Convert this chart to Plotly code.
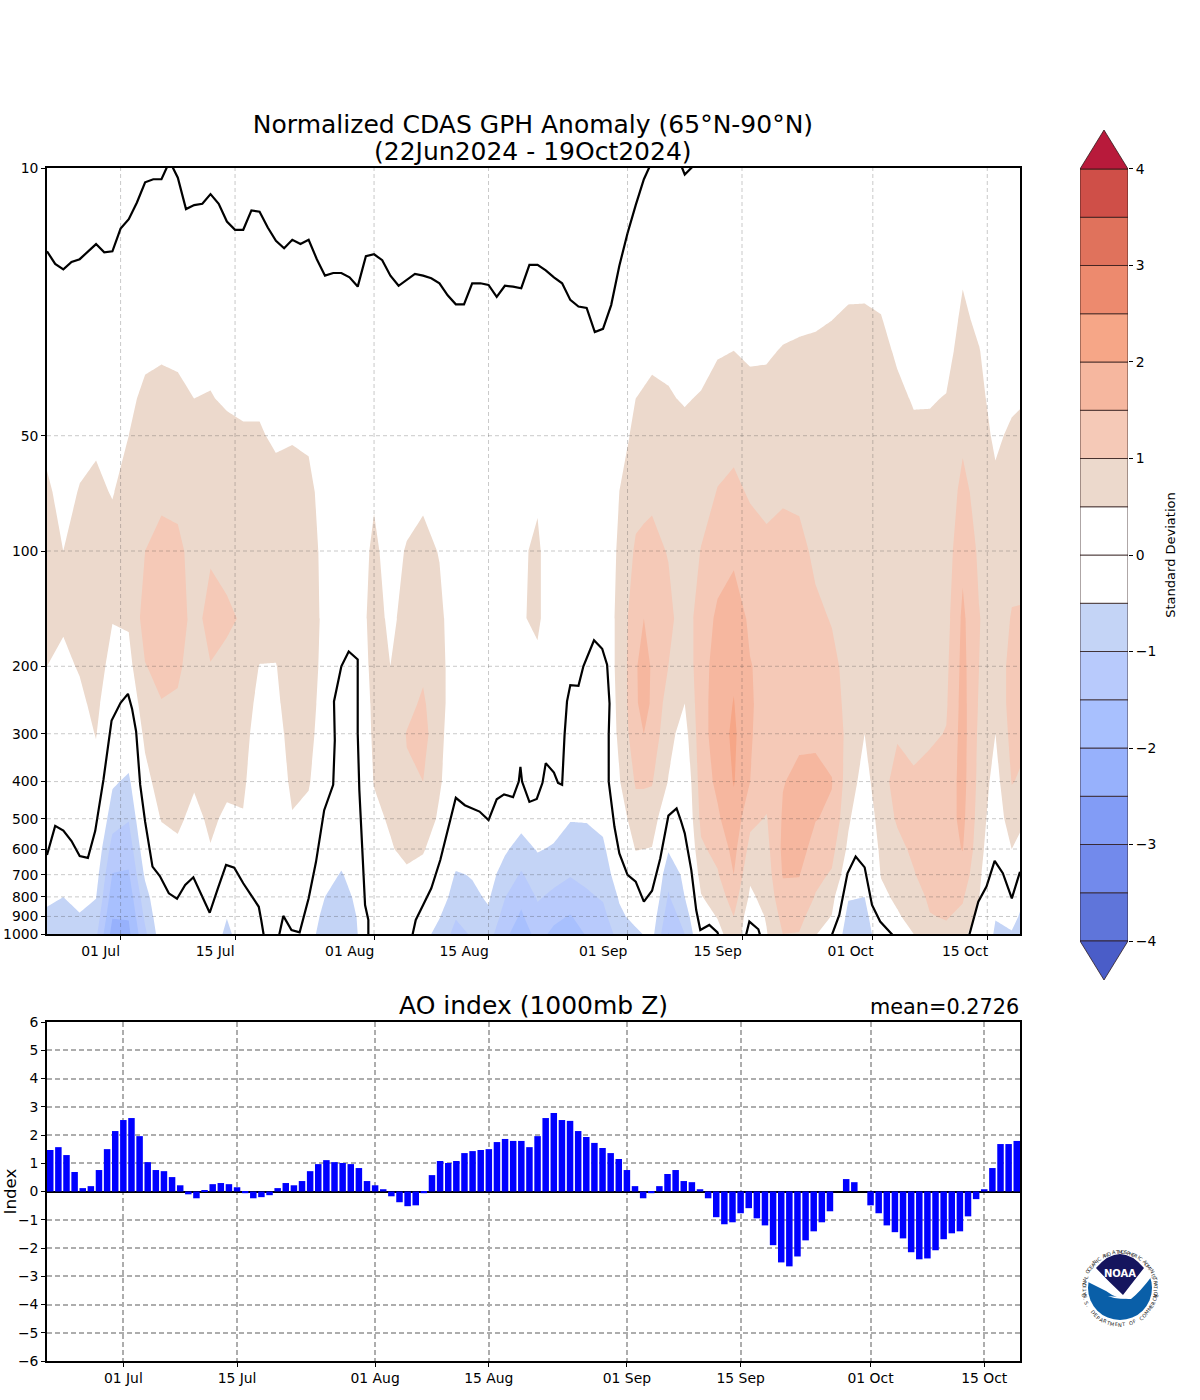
import numpy as np
import pandas as pd
import plotly.graph_objects as go

START = pd.Timestamp("2024-06-22")

TICK_DAYS = [9, 23, 40, 54, 71, 85, 101, 115]
TICK_LABELS = ["01 Jul", "15 Jul", "01 Aug", "15 Aug", "01 Sep", "15 Sep", "01 Oct", "15 Oct"]
# upper panel's labels end at their tick: the wider month names get trailing no-break spaces
TOP_TICK_LABELS = ["01 Jul", "15 Jul", "01 Aug\u00a0\u00a0", "15 Aug\u00a0\u00a0", "01 Sep\u00a0\u00a0", "15 Sep\u00a0\u00a0", "01 Oct\u00a0", "15 Oct\u00a0"]
P_TICKS = [10, 50, 100, 200, 300, 400, 500, 600, 700, 800, 900, 1000]

PRESSURE_LEVELS = [10, 20, 25, 30, 40, 50, 70, 100, 150, 200, 250, 300, 400, 500, 600, 700, 800, 900, 1000]
COLUMN_DAYS = [0, 2, 4, 6, 8, 10, 12, 14, 16, 18, 20, 22, 24, 26, 28, 30, 32, 34, 36, 38, 40, 42, 44, 46, 48, 50, 52, 54, 56, 58,
               60, 62, 64, 66, 68, 70, 72, 73, 74, 76, 78, 80, 82, 84, 86, 88, 90, 92, 94, 96, 98, 100, 102, 104, 106, 108, 110, 112, 114, 116, 118, 119]

# one row per column day, one value per pressure level
ANOMALY_BY_DAY = [
 [0,.1,.15,.2,.3,.4,.56,.7,.65,.5,.35,.25,.1,0,-.15,-.3,-.45,-.55,-.7],
 [0,.05,.1,.15,.2,.3,.38,.5,.55,.42,.3,.2,.05,-.05,-.2,-.35,-.5,-.62,-.75],
 [0,.1,.15,.2,.28,.38,.52,.75,.72,.53,.42,.3,.15,0,-.2,-.32,-.42,-.52,-.65],
 [0,.1,.15,.2,.3,.42,.6,.85,.85,.7,.6,.52,.35,.15,-.1,-.3,-.48,-.7,-.9],
 [-.1,0,.05,.1,.2,.35,.47,.7,.52,.35,.2,.05,-.42,-.8,-1.2,-1.52,-1.75,-1.97,-2.2],
 [0,.15,.22,.3,.42,.5,.7,.85,.56,.35,.15,-.05,-.6,-.97,-1.3,-1.55,-1.78,-1.97,-2.1],
 [.05,.25,.35,.42,.58,.7,.85,1.0,1.2,.98,.75,.6,.35,.1,-.15,-.42,-.7,-.9,-1.1],
 [.05,.2,.38,.46,.6,.7,.9,1.15,1.35,1.15,.98,.9,.72,.53,.25,.1,0,-.1,-.2],
 [.05,.2,.33,.42,.6,.7,.88,1.1,1.3,1.07,.95,.85,.72,.58,.42,.25,.15,.05,0],
 [0,.15,.3,.38,.5,.62,.8,.85,.8,.82,.82,.72,.55,.38,.25,.1,.05,0,-.05],
 [0,.15,.3,.4,.52,.62,.78,.93,1.2,.98,.88,.8,.68,.58,.48,.35,.2,.1,.05],
 [0,.12,.25,.35,.45,.6,.75,.85,1.08,.88,.78,.72,.6,.42,.25,.05,-.2,-.47,-.7],
 [0,.1,.2,.3,.42,.55,.72,.85,.95,.85,.75,.68,.58,.47,.3,.15,.05,0,-.05],
 [0,.1,.2,.3,.42,.55,.72,.85,.88,.48,.35,.25,.15,.05,0,-.05,-.1,-.2,-.3],
 [0,.1,.18,.25,.35,.42,.68,.8,.75,.48,.4,.3,.2,.1,0,-.05,-.1,-.2,-.3],
 [0,.08,.15,.22,.35,.47,.65,.8,.82,.8,.75,.7,.6,.47,.3,.15,.05,-.05,-.15],
 [0,.05,.12,.2,.32,.43,.62,.72,.75,.72,.68,.64,.54,.38,.2,0,-.1,-.2,-.3],
 [0,.05,.1,.15,.2,.25,.3,.35,.38,.35,.3,.25,.15,.05,-.1,-.3,-.5,-.65,-.75],
 [0,.02,.05,.08,.1,.12,.15,.15,.15,.12,.1,.05,0,-.1,-.3,-.54,-.65,-.75,-.85],
 [0,.02,.05,.08,.1,.12,.2,.25,.25,.2,.15,.1,.05,0,-.1,-.25,-.42,-.48,-.5],
 [0,.05,.08,.1,.2,.3,.44,.6,.7,.65,.6,.58,.52,.4,.25,.1,0,-.1,-.2],
 [0,.03,.05,.08,.1,.15,.2,.3,.4,.5,.62,.68,.62,.55,.46,.25,.1,0,-.1],
 [0,.03,.05,.08,.1,.2,.3,.54,.65,.75,.85,1.02,.95,.8,.62,.42,.2,.05,-.05],
 [0,.03,.05,.08,.15,.25,.42,.62,.75,.9,1.08,1.2,1.0,.8,.55,.3,.1,-.1,-.3],
 [0,0,.03,.05,.1,.15,.3,.48,.6,.62,.62,.6,.56,.42,.2,0,-.2,-.47,-.7],
 [0,0,0,.02,.05,.1,.15,.2,.25,.3,.3,.25,.15,.05,-.2,-.55,-.75,-.97,-1.15],
 [0,0,0,.02,.05,.1,.15,.2,.25,.25,.25,.2,.1,0,-.25,-.47,-.6,-.8,-.95],
 [0,0,0,.02,.05,.1,.15,.2,.2,.2,.2,.15,.1,0,-.15,-.3,-.44,-.58,-.8],
 [0,0,0,.02,.05,.1,.1,.15,.15,.15,.15,.1,.05,-.2,-.42,-.72,-.98,-1.2,-1.4],
 [0,0,0,.02,.05,.1,.2,.42,.45,.25,.2,.15,.05,-.3,-.72,-1.05,-1.38,-1.57,-1.75],
 [0,0,.05,.08,.15,.25,.42,.6,.6,.38,.2,.1,0,-.2,-.46,-.75,-.95,-1.15,-1.35],
 [0,0,0,.02,.05,.05,.1,.1,.1,.1,.1,.05,-.05,-.3,-.55,-.85,-1.1,-1.4,-1.6],
 [0,0,0,.02,.05,.05,.05,.05,.05,.05,.05,0,-.15,-.47,-.75,-.97,-1.25,-1.53,-1.8],
 [0,0,0,.02,.05,.05,.05,.1,.1,.1,.1,.05,-.1,-.47,-.68,-.87,-1.08,-1.3,-1.45],
 [0,0,0,.02,.05,.1,.1,.15,.2,.2,.15,.1,-.05,-.35,-.6,-.8,-.95,-1.15,-1.35],
 [0,.05,.1,.15,.22,.3,.5,.58,.62,.62,.6,.58,.47,.2,0,-.2,-.45,-.6,-.8],
 [0,.1,.22,.35,.5,.62,.82,1.07,1.35,1.42,1.42,1.32,1.05,.8,.52,.25,0,-.35,-.6],
 [.01,.12,.26,.38,.54,.67,.86,1.12,1.5,1.8,1.7,1.5,1.05,.8,.5,.22,0,-.28,-.48],
 [.02,.15,.3,.42,.58,.72,.9,1.15,1.38,1.42,1.42,1.32,1.03,.78,.48,.2,0,-.2,-.35],
 [.02,.12,.25,.42,.53,.62,.75,.97,1.15,1.0,.78,.65,.48,0,-.45,-.85,-1.05,-1.28,-1.52],
 [0,.1,.22,.35,.47,.6,.65,.7,.72,.65,.5,.3,0,-.1,-.25,-.38,-.5,-.8,-1.0],
 [0,.1,.22,.35,.53,.62,.78,1.02,1.25,1.3,1.3,1.3,1.25,1.12,.92,.68,.47,.2,0],
 [.02,.2,.35,.47,.63,.78,1.02,1.3,1.58,1.7,1.75,1.75,1.6,1.42,1.15,.95,.75,.53,.3],
 [.05,.28,.4,.5,.7,.87,1.1,1.4,1.75,1.92,2.02,2.1,2.03,1.83,1.65,1.5,1.22,1.0,.85],
 [.02,.2,.35,.45,.6,.72,.95,1.2,1.42,1.52,1.53,1.52,1.5,1.12,.85,.58,.42,.2,.1],
 [.02,.2,.35,.46,.6,.7,.88,1.1,1.3,1.38,1.4,1.4,1.2,.97,.85,.75,.65,.54,.47],
 [.03,.3,.42,.52,.67,.78,.95,1.13,1.3,1.35,1.38,1.4,1.48,1.55,1.6,1.53,1.35,1.15,1.0],
 [.05,.32,.44,.55,.68,.78,.93,1.1,1.25,1.3,1.35,1.42,1.6,1.7,1.7,1.52,1.35,1.15,.98],
 [.05,.35,.47,.55,.65,.72,.82,.93,1.07,1.2,1.3,1.42,1.62,1.52,1.3,1.12,.97,.75,.52],
 [.1,.4,.5,.57,.65,.7,.78,.88,.98,1.08,1.15,1.3,1.52,1.42,1.15,.95,.7,.48,.3],
 [.15,.42,.56,.62,.7,.75,.8,.85,.88,.9,.9,.88,.75,.58,.4,.15,-.45,-.7,-.95],
 [.12,.44,.55,.6,.65,.68,.72,.75,.75,.7,.6,.5,.3,.05,-.15,-.35,-.5,-.75,-.98],
 [.1,.4,.52,.6,.68,.72,.75,.78,.8,.8,.82,.85,.85,.75,.62,.52,.4,.25,.1],
 [.02,.2,.35,.45,.58,.63,.7,.75,.8,.85,.9,.96,1.15,1.05,.88,.72,.58,.45,.3],
 [0,.1,.2,.3,.47,.57,.65,.7,.75,.8,.85,.9,1.05,1.15,1.08,.97,.8,.65,.5],
 [0,.1,.2,.3,.47,.58,.66,.72,.78,.84,.9,.93,1.15,1.25,1.3,1.2,1.08,.98,.8],
 [0,.12,.25,.35,.52,.6,.68,.75,.82,.9,.95,1.02,1.2,1.3,1.32,1.25,1.12,1.03,.9],
 [.1,.48,.6,.68,.8,.9,1.15,1.38,1.6,1.65,1.68,1.7,1.68,1.62,1.52,1.3,1.05,.9,.65],
 [.02,.25,.4,.52,.62,.7,.8,.92,1.02,1.0,.95,.9,.85,.78,.7,.6,.52,.35,.15],
 [0,.08,.15,.22,.33,.42,.6,.72,.75,.72,.62,.5,.3,.15,.02,-.1,-.3,-.47,-.6],
 [0,.1,.2,.3,.42,.58,.7,.85,1.03,1.15,1.2,1.15,1.02,.8,.5,.25,.05,-.3,-.55],
 [0,.1,.2,.32,.46,.6,.72,.88,1.03,1.15,1.2,1.1,.96,.6,.38,.15,-.35,-.55,-.7],
]

BAND_EDGES = [-4.5, -4, -3.5, -3, -2.5, -2, -1.5, -1, -.5, 0, .5, 1, 1.5, 2, 2.5, 3, 3.5, 4, 4.5]
BAND_COLORS = ["#4a5dc8", "#5f75da", "#728aec", "#829cf6", "#97b1fc", "#a8c0fe", "#b8cafc", "#c4d4f6", "#ffffff",
               "#ffffff", "#ecd9cc", "#f5c9b7", "#f6b79f", "#f6a687", "#ed8a6e", "#e0725c", "#cf4f48", "#b81a3b"]

UPPER_DAY = list(range(0, 81))
UPPER_P = [16.5,17.8,18.4,17.6,17.3,16.5,15.8,16.6,16.5,14.4,13.6,12.3,10.9,10.7,10.7,9.6,10.6,12.8,12.5,12.4,
           11.7,12.4,13.8,14.5,14.5,12.9,13.0,14.3,15.5,16.2,15.4,15.8,15.4,17.3,19.1,18.8,18.8,19.3,20.4,17.0,
           16.8,17.4,19.1,20.3,19.6,18.9,19.1,19.4,20.0,21.5,22.7,22.7,20.0,20.0,20.2,21.7,20.3,20.4,20.6,17.9,
           17.9,18.5,19.3,20.0,22.1,23.0,23.2,26.8,26.3,22.8,18.0,14.8,12.5,10.7,9.6,9.2,9.2,9.2,10.4,9.9,9.5]

LOW1_DAY = [0,1,2,3,4,5,5.9,6.9,7.9,9,9.9,10.4,10.9,11.4,12,12.9,13.8,14.9,15.9,16.9,17.9,18.9,19.9,20.9,21.9,22.9,24,24.9,25.9,26.2,26.5]
LOW1_P = [622,522,537,572,626,633,538,396,277,249,236,258,296,408,509,667,706,783,809,745,711,791,880,760,660,671,737,788,849,919,1005]
LOW2_DAY = [28.4,28.9,29.9,30.9,32,32.9,33.9,35,35.2,35.1,36,36.9,38,38,38.2,38.9,39.3,39.3]
LOW2_P = [1005,897,976,990,807,648,475,408,312,247,200,183,192,299,421,840,919,1005]
LOW3_DAY = [44.7,45.1,46,47,48.1,49,50,51.1,51.9,52.9,54,55,55.9,57,57.7,57.9,58.1,59,59.9,60.6,61,62,62.5,63,63.3,63.6,64,65,65.6,66.9,67.9,68.5,68.8,68.7,68.7,69.4,70,71,72,73,74,75,76,77,77.5,78,78.8,79.4,79.9,81,82,82.1]
LOW3_P = [1005,919,840,760,641,541,441,461,468,479,504,445,432,439,400,366,400,452,444,403,358,379,403,408,302,247,224,225,200,171,180,198,250,302,400,525,616,701,730,823,771,635,491,470,504,546,681,866,976,947,990,1005]
LOW4_DAY = [85.5,85.9,87,87.2]
LOW4_P = [1005,928,972,1005]
LOW5_DAY = [96,96.9,97.9,98.9,100,100.9,101.9,103.3,103.4]
LOW5_P = [1005,892,694,628,670,840,928,1000,1005]
LOW6_DAY = [112.8,113.9,114.9,115.9,116.9,118,119]
LOW6_P = [1005,823,752,644,694,807,688]

AO_INDEX = [1.47,1.57,1.29,.69,.12,.19,.76,1.5,2.14,2.53,2.6,1.96,1.04,.76,.72,.51,.22,-.1,-.24,.05,
            .26,.3,.26,.15,-.06,-.24,-.2,-.13,.12,.3,.22,.37,.72,.97,1.11,1.04,1.01,.97,.83,.37,
            .22,.08,-.17,-.38,-.52,-.49,-.06,.58,1.08,1.01,1.08,1.36,1.43,1.47,1.5,1.75,1.86,1.79,1.79,1.57,
            1.96,2.6,2.78,2.53,2.5,2.14,1.93,1.72,1.54,1.36,1.15,.76,.19,-.24,-.06,.19,.62,.76,.37,.33,
            .08,-.24,-.91,-1.16,-1.09,-.77,-.59,-.95,-1.2,-1.9,-2.51,-2.65,-2.3,-1.73,-1.41,-1.09,-.7,0,.44,.33,
            0,-.49,-.77,-1.2,-1.44,-1.66,-2.15,-2.4,-2.37,-2.08,-1.69,-1.48,-1.41,-.88,-.27,.08,.83,1.68,1.68,1.79]

FONT = "DejaVu Sans"
W, H = 1200, 1400
PLOT_L, PLOT_R = 47, 1020


def dates(days):
    return [START + pd.Timedelta(days=float(d)) for d in days]


def dom_x(a, b):
    return [a / W, b / W]


def dom_y(top, bottom):
    return [1 - bottom / H, 1 - top / H]


fig = go.Figure()

span = BAND_EDGES[-1] - BAND_EDGES[0]
scale = []
for i, c in enumerate(BAND_COLORS):
    scale.append([(BAND_EDGES[i] - BAND_EDGES[0]) / span, c])
    scale.append([(BAND_EDGES[i + 1] - BAND_EDGES[0]) / span, c])

fig.add_trace(go.Contour(
    x=dates(COLUMN_DAYS), y=PRESSURE_LEVELS, z=np.array(ANOMALY_BY_DAY).T,
    colorscale=scale, zmin=-4.5, zmax=4.5, showscale=False,
    contours=dict(start=-4, end=4, size=.5, coloring="fill", showlines=False),
    line=dict(width=0, smoothing=0), xaxis="x", yaxis="y", hoverinfo="skip"))

for d, p in [(UPPER_DAY, UPPER_P), (LOW1_DAY, LOW1_P), (LOW2_DAY, LOW2_P), (LOW3_DAY, LOW3_P),
             (LOW4_DAY, LOW4_P), (LOW5_DAY, LOW5_P), (LOW6_DAY, LOW6_P)]:
    fig.add_trace(go.Scatter(x=dates(d), y=p, mode="lines", line=dict(color="black", width=2.2),
                             showlegend=False, xaxis="x", yaxis="y", hoverinfo="skip"))

fig.add_trace(go.Bar(x=dates(range(len(AO_INDEX))), y=AO_INDEX, width=0.8 * 86400000,
                     marker=dict(color="#0000ff", line=dict(width=0)), xaxis="x2", yaxis="y2", showlegend=False))

fig.add_trace(go.Bar(x=[0] * 16, y=[.5] * 16, base=BAND_EDGES[1:17], width=1,
                     marker=dict(color=BAND_COLORS[1:17], line=dict(color="rgba(40,20,20,.75)", width=1)),
                     xaxis="x3", yaxis="y3", showlegend=False, hoverinfo="skip"))
fig.add_trace(go.Scatter(x=[-.5, 0, .5, -.5], y=[4, 4.404, 4, 4], fill="toself", fillcolor=BAND_COLORS[-1], mode="lines",
                         line=dict(color="rgba(40,20,20,.75)", width=1), xaxis="x3", yaxis="y3", showlegend=False, hoverinfo="skip"))
fig.add_trace(go.Scatter(x=[-.5, 0, .5, -.5], y=[-4, -4.404, -4, -4], fill="toself", fillcolor=BAND_COLORS[0], mode="lines",
                         line=dict(color="rgba(40,20,20,.75)", width=1), xaxis="x3", yaxis="y3", showlegend=False, hoverinfo="skip"))

tick_dates = dates(TICK_DAYS)
axis_font = dict(family=FONT, size=13.9, color="black")
common = dict(showline=True, linecolor="black", linewidth=1.6, mirror=True, ticks="outside", ticklen=4,
              tickcolor="black", tickfont=axis_font, automargin=False)

shapes = []
GRID = dict(color="rgba(60,60,60,.28)", width=1, dash="4px,3px")
for d in tick_dates:
    shapes.append(dict(type="line", xref="x", yref="y domain", x0=d, x1=d, y0=0, y1=1, line=GRID))
for p in P_TICKS[1:-1]:
    shapes.append(dict(type="line", xref="x domain", yref="y", x0=0, x1=1, y0=p, y1=p, line=GRID))


def fx(px):
    return px / W


def fy(py):
    return 1 - py / H


def path(cmds):
    out = []
    for c in cmds:
        if c == "Z":
            out.append("Z")
        else:
            k, *pts = c
            out.append(k + " " + " ".join(f"{fx(x):.5f},{fy(y):.5f}" for x, y in pts))
    return " ".join(out)


CX, CY, R = 1120, 1288, 32
shapes.append(dict(type="circle", xref="paper", yref="paper", x0=fx(CX - R), x1=fx(CX + R), y0=fy(CY + R), y1=fy(CY - R),
                   fillcolor="#0a5fa8", line=dict(width=0)))
shapes.append(dict(type="path", xref="paper", yref="paper", fillcolor="white", line=dict(width=0),
                   path=path([("M", (1085, 1250)), ("L", (1155, 1250)), ("L", (1155, 1276)), ("L", (1152, 1276)),
                              ("Q", (1140, 1292), (1131, 1299)), ("Q", (1118, 1300), (1106, 1291)),
                              ("Q", (1096, 1286), (1088, 1282)), ("L", (1085, 1282)), "Z"])))
shapes.append(dict(type="path", xref="paper", yref="paper", fillcolor="#15155e", line=dict(width=0),
                   path=path([("M", (1096, 1268)), ("Q", (1120, 1240), (1144, 1268)), ("Q", (1133, 1282), (1123, 1295)),
                              ("Q", (1108, 1281), (1096, 1268)), "Z"])))
shapes.append(dict(type="path", xref="paper", yref="paper", fillcolor="white", line=dict(width=0),
                   path=path([("M", (1108, 1296)), ("Q", (1122, 1302), (1135, 1295)), ("Q", (1122, 1298), (1108, 1296)), "Z"])))

ann = [
    dict(text="(22Jun2024 - 19Oct2024)", x=533 / W, y=fy(152), xref="paper", yref="paper", showarrow=False,
         font=dict(family=FONT, size=25, color="black"), xanchor="center", yanchor="middle"),
    dict(text="AO index (1000mb Z)", x=533 / W, y=fy(1006), xref="paper", yref="paper", showarrow=False,
         font=dict(family=FONT, size=25, color="black"), xanchor="center", yanchor="middle"),
    dict(text="mean=0.2726", x=1021 / W, y=fy(1007), xref="paper", yref="paper", showarrow=False,
         font=dict(family=FONT, size=20.8, color="black"), xanchor="right", yanchor="middle"),
    dict(text="<b>NOAA</b>", x=fx(1120), y=fy(1273), xref="paper", yref="paper", showarrow=False,
         font=dict(family=FONT, size=10, color="white"), xanchor="center", yanchor="middle"),
]
TOP_RING = "NATIONAL OCEANIC AND ATMOSPHERIC ADMINISTRATION"
BOTTOM_RING = "U.S. DEPARTMENT OF COMMERCE"
for i, ch in enumerate(TOP_RING):
    th = np.radians(-103 + 206 * i / (len(TOP_RING) - 1))
    ann.append(dict(text=ch, x=fx(CX + 36 * np.sin(th)), y=fy(CY - 36 * np.cos(th)), xref="paper", yref="paper", showarrow=False,
                    textangle=float(np.degrees(th)), font=dict(family=FONT, size=5, color="#222"), xanchor="center", yanchor="middle"))
for i, ch in enumerate(BOTTOM_RING):
    ph = np.radians(-78 + 156 * i / (len(BOTTOM_RING) - 1))
    ann.append(dict(text=ch, x=fx(CX + 36.5 * np.sin(ph)), y=fy(CY + 36.5 * np.cos(ph)), xref="paper", yref="paper", showarrow=False,
                    textangle=float(-np.degrees(ph)), font=dict(family=FONT, size=5, color="#222"), xanchor="center", yanchor="middle"))

fig.update_layout(
    width=W, height=H, autosize=False, margin=dict(l=0, r=0, t=0, b=0, pad=0),
    paper_bgcolor="white", plot_bgcolor="white", showlegend=False, barmode="overlay",
    title=dict(text="Normalized CDAS GPH Anomaly (65°N-90°N)", x=533 / W, xanchor="center",
               y=fy(124), yanchor="middle", font=dict(family=FONT, size=25, color="black")),
    shapes=shapes, annotations=ann,
    xaxis=dict(domain=dom_x(PLOT_L, PLOT_R), range=[START, START + pd.Timedelta(days=119)], type="date",
               tickmode="array", tickvals=tick_dates, ticktext=TOP_TICK_LABELS, ticklabelshift=-20, showgrid=False, anchor="y", **common),
    yaxis=dict(domain=dom_y(168, 934), type="log", range=[3, 1], tickmode="array", tickvals=P_TICKS,
               ticktext=[str(p) for p in P_TICKS], showgrid=False, anchor="x", **common),
    xaxis2=dict(domain=dom_x(PLOT_L, PLOT_R), range=[START - pd.Timedelta(days=.4), START + pd.Timedelta(days=119.4)], type="date",
                tickmode="array", tickvals=tick_dates, ticktext=TICK_LABELS, showgrid=True,
                gridcolor="#adadad", griddash="5px,3px", gridwidth=1.6, anchor="y2", **common),
    yaxis2=dict(domain=dom_y(1022, 1361), range=[-6, 6], tickmode="linear", tick0=-6, dtick=1, showgrid=True,
                gridcolor="#adadad", griddash="5px,3px", gridwidth=1.6, zeroline=True, zerolinecolor="black", zerolinewidth=2,
                title=dict(text="Index", font=dict(family=FONT, size=16.7, color="black"), standoff=11), anchor="x2", **common),
    xaxis3=dict(domain=dom_x(1080, 1128), range=[-.5, .5], visible=False, anchor="y3"),
    yaxis3=dict(domain=dom_y(130, 980), range=[-4.404, 4.404], side="right", tickmode="array", tickvals=list(range(-4, 5)),
                ticks="outside", ticklen=4, tickcolor="black", tickfont=axis_font, showgrid=False, zeroline=False, showline=False,
                automargin=False,
                title=dict(text="Standard Deviation", font=dict(family=FONT, size=13, color="black"), standoff=10), anchor="x3"),
)

fig.write_html("out.html", config={"displayModeBar": False},
               post_script="document.body.style.margin='0';document.documentElement.style.overflow='hidden';")
